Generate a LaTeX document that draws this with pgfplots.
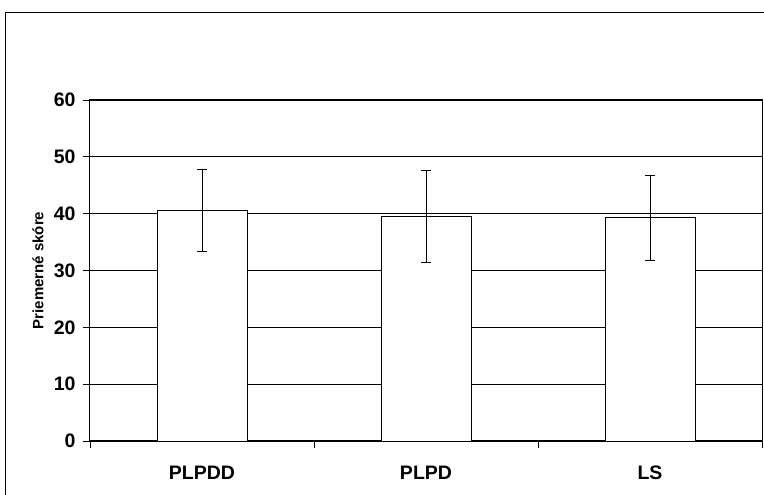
\documentclass[border=0pt]{standalone}
\usepackage{pgfplots}
\pgfplotsset{compat=1.18}
\usepackage{fontspec}
\setmainfont{Liberation Sans}
\begin{document}
\begin{tikzpicture}[x=1pt,y=1pt]
\clip (0,0) rectangle (764,495);
\fill[white] (0,0) rectangle (764,495);
\draw[line width=1pt] (5,-20) rectangle (790,482.5);
\begin{axis}[
  at={(90pt,54pt)}, anchor=south west,
  scale only axis, width=672pt, height=341pt,
  xmin=-0.5, xmax=2.5, ymin=0, ymax=60,
  ytick={0,10,...,60},
  xtick={-0.5,0.5,1.5,2.5}, xticklabels={},
  extra x ticks={0,1,2},
  extra x tick labels={PLPDD,PLPD,LS},
  extra x tick style={major tick length=0pt, tick label style={anchor=north, text height=14pt, text depth=0pt, yshift=-21pt}},
  xtick pos=bottom, ytick pos=left,
  tick align=outside,
  major tick length=7pt,
  tick style={black, line width=0.8pt},
  ymajorgrids, grid style={black, line width=0.7pt},
  axis line style={black, line width=1pt},
  /pgf/number format/assume math mode=true,
  tick label style={font=\bfseries\fontsize{19.5}{19.5}\selectfont},
  yticklabel style={xshift=-4pt},
  ylabel={Priemerné skóre},
  ylabel style={font=\bfseries\fontsize{15}{15}\selectfont, at={(axis description cs:-0.0774,0.5)}, anchor=center, rotate=0},
]
\addplot[ybar, bar width=90pt, fill=white, draw=black, line width=0.8pt,
  error bars/.cd, y dir=both, y explicit,
  error bar style={black, line width=0.8pt},
  error mark options={black, mark size=5pt, line width=0.8pt, rotate=90}]
  coordinates {(0,40.6) +- (0,7.2) (1,39.6) +- (0,8.1) (2,39.3) +- (0,7.5)};
\end{axis}
\end{tikzpicture}
\end{document}
